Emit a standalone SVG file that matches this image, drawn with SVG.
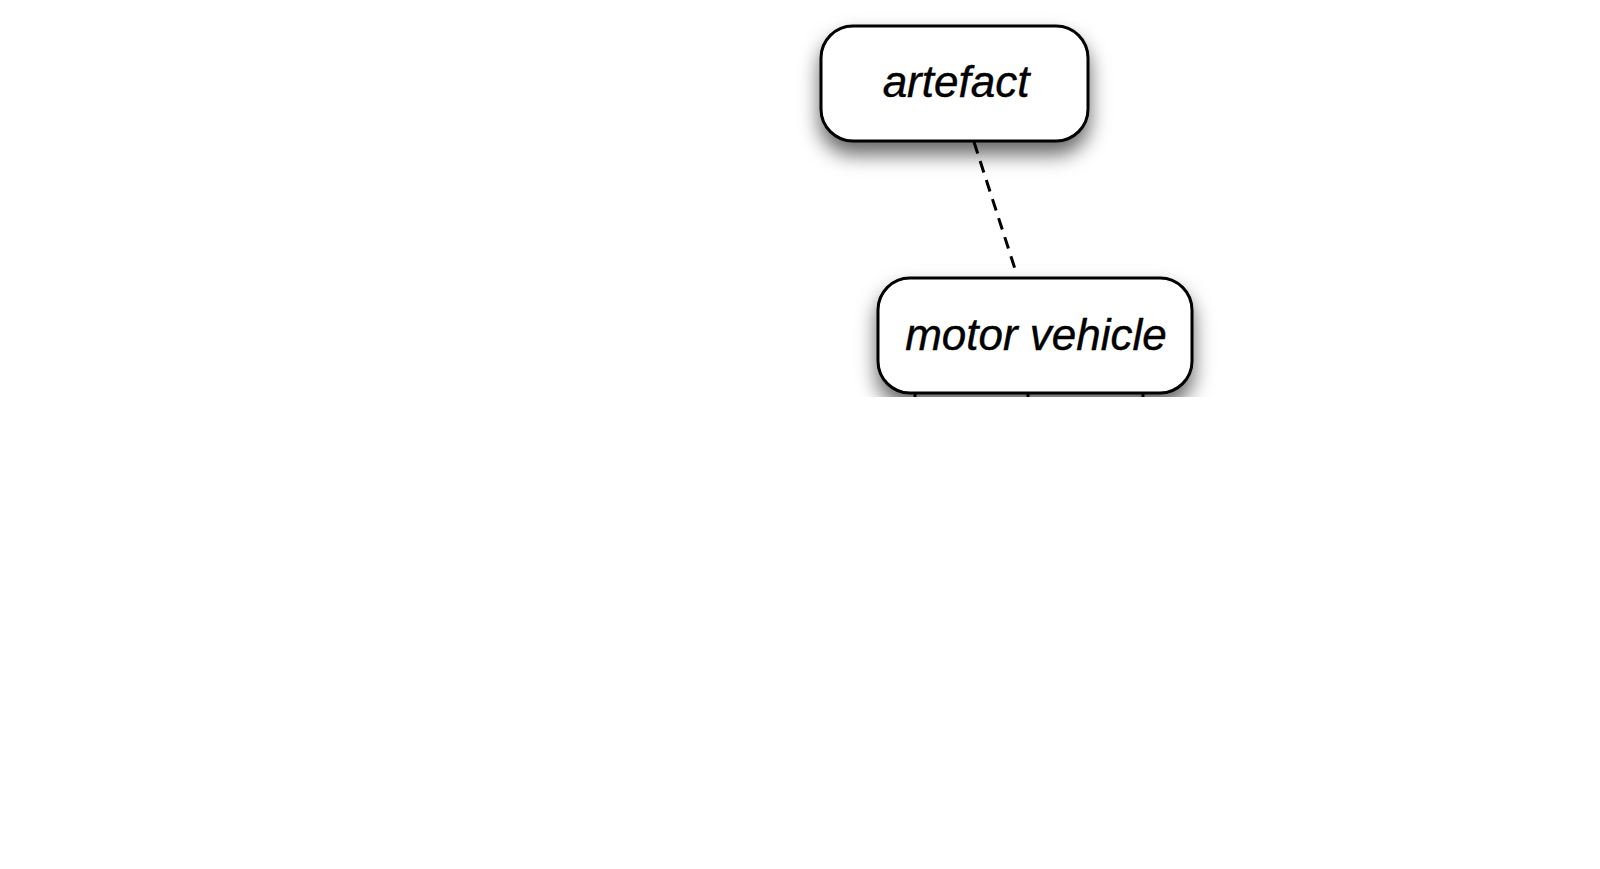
<svg xmlns="http://www.w3.org/2000/svg" width="1600" height="869" viewBox="0 0 1600 869">
<style>
.box{fill:#fff;stroke:#000;stroke-width:3}
.lbl{font-family:"Liberation Sans",Arial,sans-serif;font-style:italic;font-size:44px;fill:#000;text-anchor:middle;stroke:#000;stroke-width:0.4}
.con{stroke:#000;stroke-width:3;fill:none}
</style>
<defs>
<filter id="sh" x="-25%" y="-40%" width="150%" height="200%">
<feDropShadow dx="0" dy="12" stdDeviation="10" flood-color="#000" flood-opacity="0.6"/>
</filter>
<clipPath id="clip"><rect x="0" y="0" width="1600" height="397"/></clipPath>
</defs>
<rect width="1600" height="869" fill="#fff"/>
<g clip-path="url(#clip)">
<g id="connectors">
<line class="con" x1="974" y1="142" x2="1016" y2="272" stroke-dasharray="12,8"/>
<line class="con" x1="915" y1="392" x2="915" y2="405"/>
<line class="con" x1="1028" y1="392" x2="1028" y2="405"/>
<line class="con" x1="1143" y1="392" x2="1143" y2="405"/>
</g>
<g id="node-artefact">
<rect class="box" x="821" y="26" width="267" height="115" rx="32" filter="url(#sh)"/>
<text class="lbl" x="956" y="97">artefact</text>
</g>
<g id="node-motor-vehicle">
<rect class="box" x="878" y="278" width="314" height="115" rx="32" filter="url(#sh)"/>
<text class="lbl" x="1036" y="350">motor vehicle</text>
</g>
</g>
</svg>
